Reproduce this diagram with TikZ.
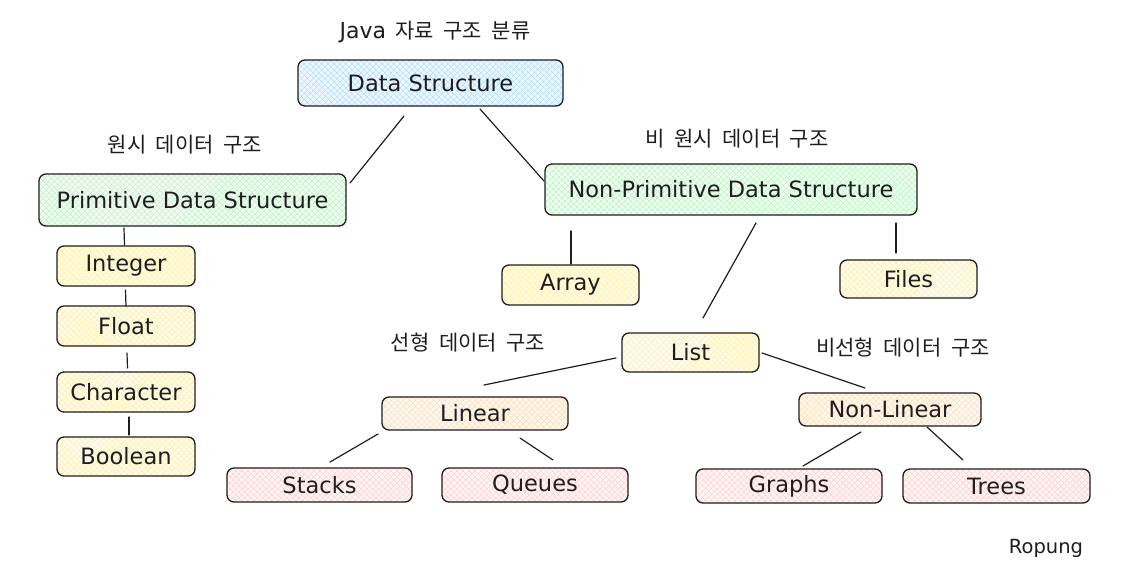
\documentclass[tikz,border=0pt]{standalone}
\usepackage{fontspec}
\setmainfont{DejaVu Sans}
\newfontfamily\kofont{Noto Sans CJK KR}
\usetikzlibrary{patterns.meta}
\definecolor{ink}{HTML}{1E1E1E}
\definecolor{cblue}{HTML}{A5D8FF}
\definecolor{cgreen}{HTML}{B2F2BB}
\definecolor{cyellow}{HTML}{FFEC99}
\definecolor{corange}{HTML}{FFD8A8}
\definecolor{cred}{HTML}{FFC9C9}
\tikzset{
  nbox/.style={draw=ink, line width=1.3pt, rounded corners=7pt, inner sep=0pt,
    font=\fontsize{22.5}{26}\selectfont, text=ink,
    preaction={fill=#1!22},
    preaction={pattern={Lines[angle=45,distance=4pt,line width=0.55pt]}, pattern color=#1},
    preaction={pattern={Lines[angle=-45,distance=4pt,line width=0.55pt]}, pattern color=#1}},
  kolabel/.style={font=\kofont\fontsize{21}{24}\selectfont, text=ink},
  link/.style={draw=ink, line width=1.2pt, line cap=round}
}
\begin{document}
\begin{tikzpicture}[x=1pt,y=-1pt]
\useasboundingbox[fill=white] (0,0) rectangle (1136,582);
% labels
\node[kolabel] (title) at (435,32) {{\fontspec{DejaVu Sans}\fontsize{22}{24}\selectfont Java}\hspace{0.45em}자료\hspace{0.45em}구조\hspace{0.45em}분류};
\node[kolabel] (lprim) at (185,145) {원시\hspace{0.45em}데이터\hspace{0.45em}구조};
\node[kolabel] (lnon) at (737,139) {비\hspace{0.45em}원시\hspace{0.45em}데이터\hspace{0.45em}구조};
\node[kolabel] (llin) at (468,343) {선형\hspace{0.45em}데이터\hspace{0.45em}구조};
\node[kolabel] (lnonlin) at (903,348) {비선형\hspace{0.45em}데이터\hspace{0.45em}구조};
\node[font=\fontsize{19.5}{22}\selectfont, text=ink] (sig) at (1046,548) {Ropung};
% boxes
\node[nbox=cblue, minimum width=265pt, minimum height=46pt] (ds) at (430.5,83) {Data Structure};
\node[nbox=cgreen, minimum width=307pt, minimum height=52pt] (prim) at (192.5,200) {Primitive Data Structure};
\node[nbox=cyellow, minimum width=138pt, minimum height=40pt] (int) at (126,266) {Integer};
\node[nbox=cyellow, minimum width=138pt, minimum height=40pt] (flt) at (126,326) {Float};
\node[nbox=cyellow, minimum width=138pt, minimum height=40pt] (chr) at (126,392) {Character};
\node[nbox=cyellow, minimum width=138pt, minimum height=39pt] (bool) at (126,456.5) {Boolean};
\node[nbox=cgreen, minimum width=372pt, minimum height=51pt] (nonp) at (731,189.5) {Non-Primitive Data Structure};
\node[nbox=cyellow, minimum width=137pt, minimum height=40pt] (arr) at (570.5,285) {Array};
\node[nbox=cyellow, minimum width=137pt, minimum height=38pt] (files) at (908.5,279) {Files};
\node[nbox=cyellow, minimum width=137pt, minimum height=39pt] (list) at (690.5,352.5) {List};
\node[nbox=corange, minimum width=186pt, minimum height=33pt] (lin) at (475,413.5) {Linear};
\node[nbox=cred, minimum width=185pt, minimum height=34pt] (stk) at (319.5,485) {Stacks};
\node[nbox=cred, minimum width=186pt, minimum height=34pt] (que) at (535,485) {Queues};
\node[nbox=corange, minimum width=182pt, minimum height=33pt] (nlin) at (890,409.5) {Non-Linear};
\node[nbox=cred, minimum width=186pt, minimum height=34pt] (gra) at (789,486) {Graphs};
\node[nbox=cred, minimum width=187pt, minimum height=34pt] (tre) at (996.5,486) {Trees};
% connector end points
\coordinate (ds-a) at (404,116);   \coordinate (prim-a) at (350,183);
\coordinate (ds-b) at (480,109);   \coordinate (nonp-a) at (544,181);
\coordinate (prim-b) at (124,228); \coordinate (int-a) at (124.5,245);
\coordinate (int-b) at (125.5,290); \coordinate (flt-a) at (126,306);
\coordinate (flt-b) at (127,353);  \coordinate (chr-a) at (127.5,368);
\coordinate (chr-b) at (129,417);  \coordinate (bool-a) at (129,435);
\coordinate (nonp-b) at (571,231); \coordinate (arr-a) at (571,264);
\coordinate (nonp-c) at (896,223); \coordinate (files-a) at (896,253);
\coordinate (nonp-d) at (756,223); \coordinate (list-a) at (703,318);
\coordinate (list-b) at (616,358); \coordinate (lin-a) at (484,385);
\coordinate (list-c) at (762,353); \coordinate (nlin-a) at (865,388);
\coordinate (lin-b) at (378,434);  \coordinate (stk-a) at (330,462);
\coordinate (lin-c) at (520,438);  \coordinate (que-a) at (553,460);
\coordinate (nlin-b) at (861,432); \coordinate (gra-a) at (803,466);
\coordinate (nlin-c) at (927,427); \coordinate (tre-a) at (963,460);
% connectors
\draw[link] (ds-a) -- (prim-a);
\draw[link] (ds-b) -- (nonp-a);
\draw[link] (prim-b) -- (int-a);
\draw[link] (int-b) -- (flt-a);
\draw[link] (flt-b) -- (chr-a);
\draw[link] (chr-b) -- (bool-a);
\draw[link] (nonp-b) -- (arr-a);
\draw[link] (nonp-c) -- (files-a);
\draw[link] (nonp-d) -- (list-a);
\draw[link] (list-b) -- (lin-a);
\draw[link] (list-c) -- (nlin-a);
\draw[link] (lin-b) -- (stk-a);
\draw[link] (lin-c) -- (que-a);
\draw[link] (nlin-b) -- (gra-a);
\draw[link] (nlin-c) -- (tre-a);
\end{tikzpicture}
\end{document}
